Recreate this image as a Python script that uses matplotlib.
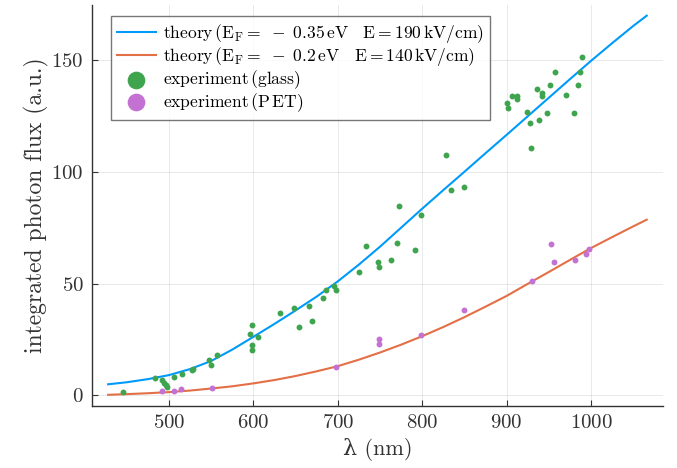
import matplotlib
matplotlib.use("Agg")
import matplotlib.pyplot as plt

# --------------------------------------
# Data
# --------------------------------------
# theory curves, sampled along lambda (nm)
theory_lam = [428, 450, 475, 500, 525, 550, 575, 600, 625, 650, 675, 700, 725, 750,
              775, 800, 825, 850, 875, 900, 925, 950, 975, 1000, 1025, 1050, 1066]
theory_glass = [5.0, 5.9, 7.3, 9.1, 11.8, 15.4, 20.5, 26.2, 32.0, 38.0, 44.2, 51.0, 58.5, 66.5,
                75.0, 83.5, 91.8, 100.0, 108.3, 116.5, 124.8, 133.1, 141.4, 149.6, 157.5, 165.2, 169.8]
theory_pet = [0.3, 0.6, 1.0, 1.5, 2.2, 3.1, 4.1, 5.4, 6.9, 8.7, 10.8, 13.1, 16.0, 19.2,
              22.7, 26.5, 30.6, 35.0, 39.7, 44.5, 49.9, 55.2, 60.6, 65.9, 70.8, 75.6, 78.6]

# measured points, glass substrate
glass_lam = [446, 483, 492, 494, 497, 498, 506, 515, 527, 528, 548, 550, 557,
             598, 596, 598, 598, 606, 632, 648, 654, 666, 669, 682, 686, 696, 698,
             725, 733, 748, 749, 763, 770, 773, 792, 799, 828, 834, 849,
             901, 902, 906, 912, 912, 924, 928, 929, 936, 938, 942, 942, 948,
             951, 957, 970, 980, 985, 987, 989]
glass_flux = [1.5, 7.9, 6.8, 5.7, 4.5, 3.9, 8.2, 9.8, 11.3, 11.9, 15.8, 13.5, 18.0,
              31.6, 27.4, 22.5, 20.5, 26.3, 36.7, 39.1, 30.8, 40.2, 33.3, 43.8, 47.3, 49.1, 47.0,
              55.2, 66.7, 59.7, 57.3, 60.4, 68.2, 84.5, 65.2, 80.5, 107.4, 92.0, 93.0,
              130.7, 128.4, 133.9, 133.9, 132.4, 126.9, 121.7, 110.8, 136.9, 123.2, 135.4, 133.9, 126.2,
              138.8, 144.8, 134.4, 126.2, 138.8, 144.5, 151.5]

# measured points, PET substrate
pet_lam = [492, 506, 514, 551, 698, 749, 749, 799, 849, 930, 953, 956, 981, 994, 998]
pet_flux = [1.8, 2.2, 3.0, 3.4, 12.8, 25.3, 23.1, 27.1, 38.4, 51.3, 67.5, 59.8, 60.4, 63.1, 65.3]

# --------------------------------------
# Style
# --------------------------------------
plt.rcParams["font.family"] = ["cmr10", "DejaVu Serif"]
plt.rcParams["mathtext.fontset"] = "cm"
plt.rcParams["axes.formatter.use_mathtext"] = True

BLUE = "#009AFA"
ORANGE = "#E36F47"
GREEN = "#3EA44E"
PURPLE = "#C371D2"

fig, ax = plt.subplots(figsize=(6.77, 4.68), dpi=100)
fig.subplots_adjust(left=0.136, right=0.979, bottom=0.1325, top=0.989)

ax.plot(theory_lam, theory_glass, color=BLUE, lw=1.5,
        label=r"$\mathrm{theory}\,(\mathrm{E_F} =\ -\ 0.35\,\mathrm{eV}\quad\mathrm{E} = 190\,\mathrm{kV/cm})$")
ax.plot(theory_lam, theory_pet, color=ORANGE, lw=1.5,
        label=r"$\mathrm{theory}\,(\mathrm{E_F} =\ -\ 0.2\,\mathrm{eV}\quad\mathrm{E} = 140\,\mathrm{kV/cm})$")
ax.scatter(glass_lam, glass_flux, s=18, color=GREEN, linewidths=0, zorder=3,
           label=r"$\mathrm{experiment}\,(\mathrm{glass})$")
ax.scatter(pet_lam, pet_flux, s=18, color=PURPLE, linewidths=0, zorder=3,
           label=r"$\mathrm{experiment}\,(\mathrm{P\,ET})$")

ax.set_xlim(409, 1085)
ax.set_ylim(-4.7, 174.5)
ax.set_xticks([500, 600, 700, 800, 900, 1000])
ax.set_yticks([0, 50, 100, 150])
ax.grid(True, color="black", alpha=0.1, lw=0.6)
ax.set_axisbelow(True)

for side in ("top", "right"):
    ax.spines[side].set_visible(False)
for side in ("left", "bottom"):
    ax.spines[side].set_color("#333333")
    ax.spines[side].set_linewidth(1.0)

ax.tick_params(direction="in", length=4, width=0.8, color="#333333",
               labelsize=15, labelcolor="#333333", pad=6)
ax.set_xlabel("λ (nm)", fontsize=16, color="#333333")
ax.set_ylabel("integrated photon flux (a.u.)", fontsize=17, color="#333333", labelpad=2)

leg = ax.legend(loc="upper left", fontsize=12.6, markerscale=3.0, handlelength=2.2,
                handletextpad=0.45, labelspacing=0.0, borderpad=0.35, borderaxespad=0,
                fancybox=False, bbox_to_anchor=(0.033, 0.972))
leg.get_frame().set_edgecolor("#555555")
leg.get_frame().set_linewidth(1.0)

fig.savefig("out.png", dpi=100)
